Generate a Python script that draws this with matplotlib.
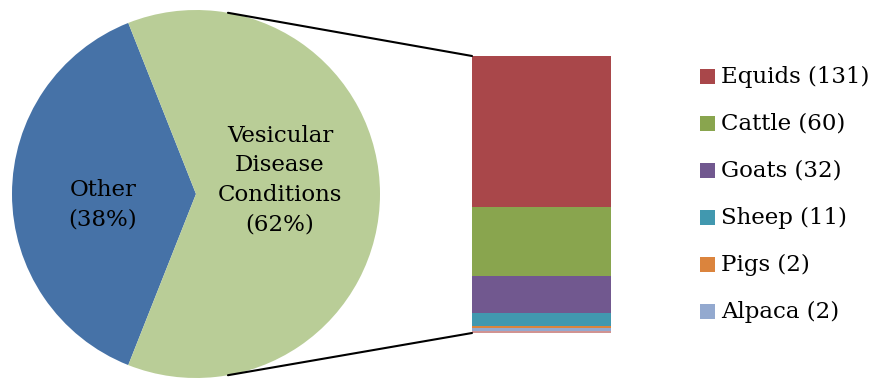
import numpy as np
import matplotlib.pyplot as plt
from matplotlib.patches import Rectangle, ConnectionPatch

# pie: share of all cases
pie_labels = ['Other\n(38%)', 'Vesicular\nDisease\nConditions\n(62%)']
pie_values = [38, 62]
pie_colors = ['#4672a7', '#b9cd97']

# bar: vesicular cases by species (last strip has no legend entry)
species = ['Equids', 'Cattle', 'Goats', 'Sheep', 'Pigs', 'Alpaca', '']
counts = [131, 60, 32, 11, 2, 2, 2]
bar_colors = ['#a9474a', '#89a54e', '#71588f', '#4198af', '#db843d', '#93a9cf', '#d19392']

plt.rcParams['font.family'] = ['DejaVu Serif']
W, H = 870, 378
fig = plt.figure(figsize=(W / 100, H / 100), dpi=100)

# main axes in pixel units (y up)
ax = fig.add_axes([0, 0, 1, 1])
cx, cy, r = 196, 184, 184
start = 180 - 360 * pie_values[0] / sum(pie_values) / 2
ax.pie(pie_values, colors=pie_colors, startangle=start, center=(cx, cy),
       radius=r, frame=True, wedgeprops=dict(linewidth=0))
ax.set_xlim(0, W)
ax.set_ylim(0, H)
ax.set_aspect('equal')
ax.axis('off')

ax.text(103, 173, pie_labels[0], ha='center', va='center', fontsize=16.5,
        linespacing=1.45)
ax.text(280, 198, pie_labels[1], ha='center', va='center', fontsize=16.5,
        linespacing=1.45)

# stacked bar in its own axes, stacking from the top down
bx0, bx1, by0, by1 = 472, 611, 56, 333
ax2 = fig.add_axes([bx0 / W, 1 - by1 / H, (bx1 - bx0) / W, (by1 - by0) / H])
total = sum(counts)
bottom = 0
for c, col in zip(counts, bar_colors):
    ax2.bar(0, c, bottom=bottom, width=1, color=col, linewidth=0)
    bottom += c
ax2.set_xlim(-0.5, 0.5)
ax2.set_ylim(total, 0)
ax2.axis('off')

# connector lines from the pie to the bar corners
a = np.radians(80)
px, py = cx + r * np.cos(a), r * np.sin(a)
for y_pie, y_bar in [(cy + py, 0), (cy - py, total)]:
    con = ConnectionPatch(xyA=(px, y_pie), coordsA=ax.transData,
                          xyB=(-0.5, y_bar), coordsB=ax2.transData,
                          color='black', linewidth=1.5)
    fig.add_artist(con)

# legend
for i, (name, c, col) in enumerate(zip(species, counts, bar_colors)):
    if not name:
        continue
    yc = H - (76.5 + 47 * i)
    ax.add_patch(Rectangle((700, yc - 7.5), 15, 15, color=col, linewidth=0))
    ax.text(721, yc, f'{name} ({c})', ha='left', va='center', fontsize=16.5)

fig.savefig('out.png', dpi=100)
